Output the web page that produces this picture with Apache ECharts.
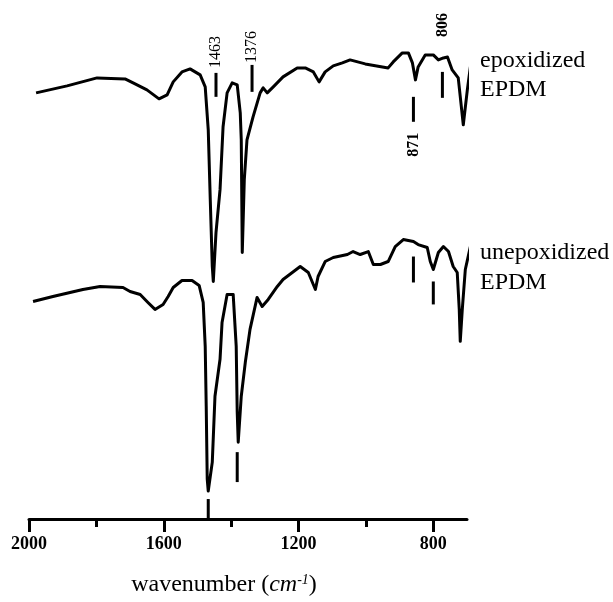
<!DOCTYPE html>
<html>
<head>
  <meta charset="utf-8">
</head>
<body style="margin: 0">
  <div id="container" style="width: 613px; height: 602px"></div>

  <script type="text/javascript" src="https://cdn.jsdelivr.net/npm/echarts@6.0.0/dist/echarts.min.js"></script>
  <script type="text/javascript">
    // wavenumber (cm-1) / transmittance (arbitrary, offset)
    var epoxWn = [1979, 1887, 1798, 1715, 1691, 1650, 1614, 1590, 1572, 1546, 1522, 1492, 1477, 1468, 1462, 1456, 1453,
      1445, 1433, 1424, 1412, 1397, 1382, 1373, 1370, 1367, 1361, 1353, 1335, 1314, 1305, 1293, 1275, 1246, 1204,
      1180, 1156, 1139, 1121, 1097, 1070, 1047, 1002, 934, 919, 892, 874, 862, 853, 845, 824, 800, 785, 770, 758,
      744, 726, 711, 699, 690, 684];
    var epoxT = [85.4, 86.8, 88.4, 88.2, 87.4, 86.0, 84.2, 85.0, 87.6, 89.6, 90.2, 89.0, 86.6, 78.0, 64.0, 50.6, 47.6,
      57.4, 66.0, 78.6, 85.4, 87.4, 87.0, 81.4, 76.0, 53.4, 68.0, 76.0, 80.6, 85.4, 86.4, 85.4, 86.6, 88.6, 90.4,
      90.4, 89.6, 87.6, 89.6, 90.8, 91.4, 92.0, 91.2, 90.4, 91.6, 93.4, 93.4, 91.4, 88.0, 90.6, 93.0, 93.0, 92.0, 92.4, 92.6,
      90.0, 88.4, 79.0, 86.0, 90.6, 92.0];

    var unepoxWn = [1988, 1929, 1840, 1789, 1721, 1700, 1670, 1647, 1626, 1602, 1587, 1572, 1546, 1516, 1495, 1483,
      1477, 1474, 1471, 1468, 1456, 1448, 1433, 1427, 1412, 1394, 1385, 1382, 1379, 1370, 1358, 1344, 1323, 1308,
      1290, 1263, 1246, 1195, 1171, 1150, 1142, 1121, 1097, 1055, 1038, 1017, 993, 978, 957, 934, 913, 889, 859,
      845, 818, 809, 800, 785, 770, 755, 741, 729, 723, 720, 714, 705, 690];
    var unepoxT = [43.6, 44.6, 46.0, 46.6, 46.4, 45.6, 45.0, 43.4, 42.0, 43.0, 44.6, 46.4, 47.8, 47.8, 46.8, 43.4,
      34.6, 22.6, 8.0, 5.6, 11.4, 24.6, 32.0, 39.4, 45.0, 45.0, 34.6, 21.4, 15.4, 24.6, 31.4, 38.0, 44.4, 42.6,
      44.0, 46.6, 48.0, 50.6, 49.4, 46.0, 48.6, 51.6, 52.4, 53.0, 53.6, 53.0, 53.6, 51.0, 51.0, 51.6, 54.6, 56.0, 55.6,
      55.0, 54.4, 51.6, 50.0, 53.4, 54.6, 53.6, 50.6, 49.4, 42.0, 35.6, 42.0, 50.0, 54.6];

    // peak marker bars: position, top/bottom of bar, label text and label centre
    var markWn = [1445, 1338, 859, 773, 859, 800, 1382, 1468];
    var markTop = [89.4, 91.0, 84.6, 89.6, 52.6, 47.6, 13.4, 4.0];
    var markBottom = [84.6, 85.6, 79.6, 84.4, 47.4, 43.0, 7.4, 0];
    var markText = ['1463', '1376', '871', '806', '', '', '', ''];
    var markTextT = [93.6, 94.6, 75.0, 99.0, 0, 0, 0, 0];

    var seriesNames = ['epoxidized\nEPDM', 'unepoxidized\nEPDM'];

    var majorTicks = [2000, 1600, 1200, 800];
    var minorTicks = [1800, 1400, 1000];

    function pairs(xs, ys) {
      return xs.map(function (x, i) { return [x, ys[i]]; });
    }

    var marks = markWn.map(function (w, i) {
      return [w, markTop[i], markBottom[i], markTextT[i]];
    });

    var dom = document.getElementById('container');
    var myChart = echarts.init(dom, null, { renderer: 'canvas' });

    var serif = '"Liberation Serif", "DejaVu Serif", serif';

    var option = {
      animation: false,
      backgroundColor: '#fff',
      grid: { left: 29, right: 146, top: 20, bottom: 82 },
      graphic: [
        {
          type: 'text', left: 480, top: 46,
          style: { text: seriesNames[0], fill: '#000', font: '24px ' + serif, lineHeight: 29 }
        },
        {
          type: 'text', left: 480, top: 238,
          style: { text: seriesNames[1], fill: '#000', font: '24px ' + serif, lineHeight: 30 }
        }
      ],
      xAxis: [
        {
          type: 'value', min: 700, max: 2000, inverse: true,
          axisLine: { lineStyle: { color: '#000', width: 3 } },
          axisTick: { customValues: majorTicks, length: 13, lineStyle: { color: '#000', width: 3 } },
          axisLabel: {
            customValues: majorTicks, margin: 16, color: '#000',
            fontFamily: serif, fontWeight: 'bold', fontSize: 18,
            formatter: function (v) { return String(v); }
          },
          splitLine: { show: false },
          name: '{a|wavenumber (}{i|cm}{s|-1}{a|)}',
          nameLocation: 'middle',
          nameGap: 54,
          nameTextStyle: {
            padding: [0, 48, 0, 0],
            rich: {
              a: { fontFamily: serif, fontSize: 24, color: '#000' },
              i: { fontFamily: serif, fontSize: 24, fontStyle: 'italic', color: '#000' },
              s: { fontFamily: serif, fontSize: 14, fontStyle: 'italic', color: '#000', verticalAlign: 'top', padding: [0, 0, 10, 0] }
            }
          }
        },
        {
          type: 'value', min: 700, max: 2000, inverse: true, position: 'bottom',
          axisLine: { show: false },
          axisTick: { customValues: minorTicks, length: 8, lineStyle: { color: '#000', width: 3 } },
          axisLabel: { show: false },
          splitLine: { show: false }
        }
      ],
      yAxis: { type: 'value', min: 0, max: 100, show: false },
      series: [
        {
          name: seriesNames[0],
          type: 'line',
          data: pairs(epoxWn, epoxT),
          showSymbol: false,
          clip: false,
          lineStyle: { color: '#000', width: 3, join: 'round' }
        },
        {
          name: seriesNames[1],
          type: 'line',
          data: pairs(unepoxWn, unepoxT),
          showSymbol: false,
          clip: false,
          lineStyle: { color: '#000', width: 3, join: 'round' }
        },
        {
          type: 'custom',
          data: marks,
          clip: false,
          encode: { x: 0, y: [1, 2] },
          renderItem: function (params, api) {
            var w = api.value(0);
            var p1 = api.coord([w, api.value(1)]);
            var p2 = api.coord([w, api.value(2)]);
            var children = [{
              type: 'line',
              shape: { x1: p1[0], y1: p1[1], x2: p2[0], y2: p2[1] },
              style: { stroke: '#000', lineWidth: 3 }
            }];
            var txt = markText[params.dataIndex];
            if (txt) {
              var pt = api.coord([w, api.value(3)]);
              var bold = (txt === '871' || txt === '806');
              children.push({
                type: 'text',
                x: pt[0], y: pt[1],
                rotation: Math.PI / 2,
                style: {
                  text: txt, fill: '#000',
                  font: (bold ? 'bold ' : '') + '16px ' + serif,
                  align: 'center', verticalAlign: 'middle'
                }
              });
            }
            return { type: 'group', children: children };
          }
        }
      ]
    };

    myChart.setOption(option);
    window.addEventListener('resize', myChart.resize);
  </script>
</body>
</html>
